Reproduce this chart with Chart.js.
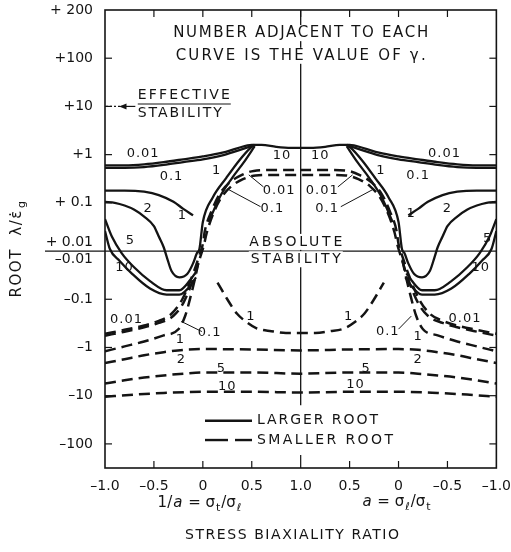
<!DOCTYPE html>
<html>
<head>
<meta charset="utf-8">
<script src="https://cdn.jsdelivr.net/npm/chart.js@4.4.1/dist/chart.umd.min.js"></script>
<style>
  html, body { margin: 0; padding: 0; background: #fff; }
  canvas { display: block; }
</style>
</head>
<body>
<canvas id="chart" width="511" height="552"></canvas>
<script>
// ── Data (left half, x = 1/a from -1 to 1; right half is the mirror, a from 1 to -1) ──
// each pair: [stress ratio, root λ/ε̇g]

// larger root (solid)
var large001 = [[-1,0.6],[-0.8,0.6],[-0.6,0.63],[-0.4,0.7],[-0.2,0.8],[0,0.92],[0.2,1.1],[0.35,1.35],[0.5,1.6],[0.6,1.6],[0.75,1.45],[0.9,1.38],[1,1.38]];
var large01  = [[-1,0.53],[-0.8,0.53],[-0.6,0.55],[-0.4,0.61],[-0.2,0.7],[0,0.8],[0.2,0.97],[0.35,1.2],[0.5,1.5]];
var large1a  = [[-1,0.18],[-0.8,0.18],[-0.6,0.17],[-0.45,0.145],[-0.3,0.105],[-0.2,0.075],[-0.1,0.055]];
var large1b  = [[0.06,0.04],[0.17,0.128],[0.3,0.33],[0.42,0.7],[0.53,1.5]];
var large2   = [[-1,0.105],[-0.9,0.1],[-0.8,0.088],[-0.7,0.072],[-0.6,0.052],[-0.5,0.033],[-0.45,0.02],[-0.4,0.012],
                [-0.37,-0.013],[-0.32,-0.026],[-0.24,-0.035],[-0.16,-0.03],[-0.1,-0.018],[-0.06,-0.011],
                [-0.035,0.011],[0,0.04],[0.1,0.128],[0.24,0.33],[0.37,0.75],[0.49,1.4],[0.53,1.6]];
var large5   = [[-1,0.046],[-0.93,0.02],[-0.83,-0.011],[-0.7,-0.022],[-0.54,-0.042],[-0.37,-0.065],[-0.24,-0.065],[-0.13,-0.04],[-0.08,-0.029]];
var large10  = [[-1,0.026],[-0.95,0.011],[-0.85,-0.016],[-0.72,-0.03],[-0.54,-0.06],[-0.37,-0.08],[-0.24,-0.08],[-0.11,-0.047],[-0.07,-0.035]];

// smaller root (dashed)
var small001 = [[-1,-0.52],[-0.8,-0.43],[-0.6,-0.35],[-0.45,-0.28],[-0.32,-0.2],[-0.21,-0.1],[-0.09,-0.026],[-0.04,-0.013],
                [0,0.014],[0.02,0.026],[0.09,0.068],[0.17,0.15],[0.27,0.26],[0.39,0.37],[0.52,0.46],[0.75,0.48],[1,0.48]];
var small01  = [[-1,-0.57],[-0.8,-0.47],[-0.6,-0.38],[-0.45,-0.31],[-0.3,-0.22],[-0.2,-0.12],[-0.08,-0.03],[-0.03,-0.014],
                [0.01,0.013],[0.04,0.024],[0.11,0.062],[0.19,0.13],[0.29,0.22],[0.41,0.31],[0.54,0.37],[0.75,0.38],[1,0.38]];
var small1a  = [[-1,-1.2],[-0.8,-0.95],[-0.6,-0.75],[-0.4,-0.56],[-0.25,-0.42],[-0.18,-0.22],[-0.12,-0.08],[-0.07,-0.03],[-0.04,-0.015]];
var small1b  = [[0.15,-0.045],[0.25,-0.1],[0.35,-0.2],[0.45,-0.3],[0.55,-0.4],[0.7,-0.46],[0.85,-0.5],[1,-0.5]];
var small2   = [[-1,-2.1],[-0.8,-1.75],[-0.6,-1.45],[-0.4,-1.25],[-0.2,-1.12],[0,-1.08],[0.5,-1.1],[1,-1.15]];
var small5   = [[-1,-5.6],[-0.8,-4.8],[-0.6,-4.2],[-0.4,-3.8],[-0.2,-3.5],[0,-3.3],[0.5,-3.3],[1,-3.5]];
var small10  = [[-1,-10.5],[-0.7,-9.5],[-0.4,-8.8],[0,-8.3],[0.5,-8.3],[1,-8.6]];

// axis ticks (y in decades of |λ| from 0.01, sign kept)
var yTickPos    = [5, 4, 3, 2, 1, 0, -1, -2, -3, -4];
var yTickLabels = ["+ 200", "+100", "+10", "+1", "+ 0.1", ["+ 0.01", "\u20130.01"], "\u20130.1", "\u20131", "\u201310", "\u2013100"];
var xTickLabels = ["\u20131.0", "\u20130.5", "0", "0.5", "1.0", "0.5", "0", "\u20130.5", "\u20131.0"];

// γ tags next to the curves: [text, x, y(axis units)]
var curveTags = [
  ["0.01",-0.61,2.02],["0.1",-0.32,1.54],["1",-0.21,0.73],["2",-0.56,0.875],["5",-0.74,0.21],["10",-0.8,-0.35],
  ["1",0.14,1.67],["10",0.81,1.98],["10",1.2,1.98],["0.01",0.78,1.25],["0.01",1.22,1.25],["0.1",0.71,0.875],["0.1",1.27,0.875],
  ["0.01",2.47,2.02],["0.1",2.2,1.56],["1",1.82,1.67],["1",2.13,0.77],["2",2.5,0.875],["5",2.91,0.25],["10",2.84,-0.35],
  ["0.01",-0.78,-1.42],["0.1",0.07,-1.69],["1",-0.23,-1.83],["2",-0.22,-2.25],["5",0.19,-2.44],["10",0.25,-2.81],["1",0.49,-1.35],
  ["0.01",2.68,-1.4],["0.1",1.89,-1.67],["1",2.2,-1.77],["2",2.2,-2.25],["5",1.67,-2.44],["10",1.56,-2.77],["1",1.49,-1.35]
];
var leaders = [
  [0.47,1.58,0.62,1.33],[0.25,1.29,0.59,0.92],[1.53,1.58,1.38,1.33],[1.75,1.29,1.41,0.92],
  [-0.22,-1.46,-0.01,-1.67],[2.13,-1.35,2.0,-1.62]
];

var ink = "#141414";
var FONT = '"DejaVu Sans", sans-serif';

// ── helpers ──────────────────────────────────────────────
function toAxis(l) {
  return Math.sign(l) * Math.max(0, Math.log10(Math.abs(l)) + 2);
}
function leftPts(c)  { return c.map(function(p) { return { x: p[0], y: toAxis(p[1]) }; }); }
function rightPts(c) { return c.map(function(p) { return { x: 2 - p[0], y: toAxis(p[1]) }; }).reverse(); }
function across(c)   { return leftPts(c).concat(rightPts(c).slice(1)); }

function solid(pts)  { return { data: pts, borderColor: ink, borderWidth: 2.3 }; }
function dashed(pts) { return { data: pts, borderColor: ink, borderWidth: 2.5, borderDash: [11, 6] }; }

var datasets = [
  solid(across(large001)),
  solid(leftPts(large01)),  solid(rightPts(large01)),
  solid(leftPts(large1a)),  solid(rightPts(large1a)),
  solid(leftPts(large1b)),  solid(rightPts(large1b)),
  solid(leftPts(large2)),   solid(rightPts(large2)),
  solid(leftPts(large5)),   solid(rightPts(large5)),
  solid(leftPts(large10)),  solid(rightPts(large10)),
  dashed(across(small001)),
  dashed(across(small01)),
  dashed(leftPts(small1a)), dashed(rightPts(small1a)),
  dashed(across(small1b)),
  dashed(across(small2)),
  dashed(across(small5)),
  dashed(across(small10))
];

function line(ctx, x1, y1, x2, y2) {
  ctx.beginPath(); ctx.moveTo(x1, y1); ctx.lineTo(x2, y2); ctx.stroke();
}

// text stretched with letter spacing to a target width
function spaced(ctx, s, x, y, width, align, bg) {
  ctx.letterSpacing = "0px";
  var w0 = ctx.measureText(s).width;
  var n = Array.from(s).length;
  var sp = width ? Math.max(0, (width - w0) / Math.max(1, n - 1)) : 0;
  var w = width || w0;
  var left = align === "left" ? x : x - w / 2;
  if (bg) {
    ctx.fillStyle = "#fff";
    ctx.fillRect(left - 2, y - 8, w + 4, 16);
    ctx.fillStyle = ink;
  }
  ctx.letterSpacing = sp + "px";
  ctx.textAlign = "left";
  ctx.fillText(s, left, y);
  ctx.letterSpacing = "0px";
}

// text made of pieces, some of them subscripts
function rich(ctx, parts, cx, cy, size, gap) {
  var total = 0;
  function font(p) {
    return (p[1] === "sub" ? Math.round(size * 0.72) + "px " : (p[1] === "it" ? "italic " : "") + size + "px ") + FONT;
  }
  ctx.letterSpacing = (gap || 0) + "px";
  parts.forEach(function(p) {
    ctx.font = font(p);
    p.w = ctx.measureText(p[0]).width + 1;
    total += p.w;
  });
  var x = cx - total / 2;
  ctx.textAlign = "left";
  parts.forEach(function(p) {
    ctx.font = font(p);
    ctx.fillText(p[0], x, cy + (p[1] === "sub" ? size * 0.35 : 0));
    x += p.w;
  });
  ctx.letterSpacing = "0px";
}

// ── frame, inner ticks, reference lines, lettering ─────────
var paperPlugin = {
  id: "paper",
  beforeDatasetsDraw: function(chart) {
    var ctx = chart.ctx, a = chart.chartArea, x = chart.scales.x, y = chart.scales.y;
    ctx.save();
    ctx.strokeStyle = ink;
    ctx.lineWidth = 1.6;
    ctx.strokeRect(a.left, a.top, a.right - a.left, a.bottom - a.top);

    ctx.lineWidth = 1.2;
    yTickPos.forEach(function(v) {
      if (v === 0 || v === 5) return;
      var py = y.getPixelForValue(v);
      line(ctx, a.left, py, a.left + 7, py);
      line(ctx, a.right - 7, py, a.right, py);
    });
    for (var v = -0.5; v < 3; v += 0.5) {
      var px = x.getPixelForValue(v);
      var len = v === 1 ? 13 : 7;
      line(ctx, px, a.top, px, a.top + 7);
      line(ctx, px, a.bottom - len, px, a.bottom);
    }

    // ±0.01 line, running out under the tick labels
    var y0 = y.getPixelForValue(0);
    ctx.lineWidth = 1.3;
    line(ctx, 45, y0, a.right, y0);

    // equal biaxial line
    var xc = x.getPixelForValue(1);
    line(ctx, xc, a.top, xc, y.getPixelForValue(-3.2));
    ctx.restore();
  },
  afterDatasetsDraw: function(chart) {
    var ctx = chart.ctx, a = chart.chartArea, x = chart.scales.x, y = chart.scales.y;
    function X(v) { return x.getPixelForValue(v); }
    function Y(v) { return y.getPixelForValue(v); }
    ctx.save();
    ctx.fillStyle = ink;
    ctx.strokeStyle = ink;
    ctx.textBaseline = "middle";

    // header
    ctx.font = "15px " + FONT;
    spaced(ctx, "NUMBER ADJACENT TO EACH", X(1), Y(4.52), 255, "center", true);
    spaced(ctx, "CURVE IS THE VALUE OF \u03B3.", X(1), Y(4.05), 250, "center", true);

    // effective stability note
    ctx.font = "14px " + FONT;
    spaced(ctx, "EFFECTIVE", X(-0.665), Y(3.22), 92, "left");
    spaced(ctx, "STABILITY", X(-0.665), Y(2.85), 84, "left");
    ctx.lineWidth = 1.2;
    line(ctx, X(-0.665), Y(3.05), X(-0.665) + 93, Y(3.05));
    ctx.setLineDash([2, 2]);
    line(ctx, a.left + 1, Y(3), X(-0.84), Y(3));
    ctx.setLineDash([]);
    line(ctx, X(-0.84), Y(3), X(-0.69), Y(3));
    ctx.beginPath();
    ctx.moveTo(X(-0.855), Y(3));
    ctx.lineTo(X(-0.78), Y(3) - 3);
    ctx.lineTo(X(-0.78), Y(3) + 3);
    ctx.closePath();
    ctx.fill();

    // absolute stability
    spaced(ctx, "ABSOLUTE", X(0.95), Y(0.19), 93, "center", true);
    spaced(ctx, "STABILITY", X(0.95), Y(-0.17), 90, "center", true);

    // γ tags
    ctx.font = "13px " + FONT;
    ctx.textAlign = "center";
    curveTags.forEach(function(t) {
      ctx.letterSpacing = "1px";
      ctx.fillText(t[0], X(t[1]), Y(t[2]));
    });
    ctx.letterSpacing = "0px";
    ctx.lineWidth = 1;
    leaders.forEach(function(l) { line(ctx, X(l[0]), Y(l[1]), X(l[2]), Y(l[3])); });

    // legend
    ctx.lineWidth = 2.4;
    line(ctx, 205, Y(-3.52), 252, Y(-3.52));
    line(ctx, 205, Y(-3.92), 228, Y(-3.92));
    line(ctx, 235, Y(-3.92), 252, Y(-3.92));
    ctx.font = "14px " + FONT;
    spaced(ctx, "LARGER ROOT", 257, Y(-3.52), 121, "left");
    spaced(ctx, "SMALLER ROOT", 257, Y(-3.92), 136, "left");

    // axis titles
    rich(ctx, [["1/", ""], ["a", "it"], [" = \u03C3", ""], ["t", "sub"], ["/\u03C3", ""], ["\u2113", "sub"]], 200, 503, 15);
    rich(ctx, [["a", "it"], [" = \u03C3", ""], ["\u2113", "sub"], ["/\u03C3", ""], ["t", "sub"]], 397, 502, 15);
    ctx.font = "14px " + FONT;
    spaced(ctx, "STRESS BIAXIALITY RATIO", 292, 535, 214, "center");

    ctx.translate(17, 248);
    ctx.rotate(-Math.PI / 2);
    rich(ctx, [["ROOT  \u03BB/\u03B5\u0307", ""], ["g", "sub"]], 0, 0, 15, 1.5);
    ctx.restore();
  }
};

new Chart(document.getElementById("chart"), {
  type: "line",
  data: { datasets: datasets },
  options: {
    responsive: false,
    animation: false,
    layout: { padding: { top: 10, right: 0, left: 0, bottom: 0 } },
    elements: {
      point: { radius: 0 },
      line: { fill: false, cubicInterpolationMode: "monotone", borderCapStyle: "butt" }
    },
    plugins: { legend: { display: false }, tooltip: { enabled: false } },
    scales: {
      x: {
        type: "linear", min: -1, max: 3,
        afterBuildTicks: function(s) {
          s.ticks = xTickLabels.map(function(_, i) { return { value: -1 + i * 0.5 }; });
        },
        ticks: {
          autoSkip: false, maxRotation: 0, padding: 0, color: ink,
          font: { family: FONT, size: 14 },
          callback: function(v) { return xTickLabels[Math.round((v + 1) * 2)]; }
        },
        grid: { display: true, drawOnChartArea: false, drawTicks: true, tickLength: 10, tickColor: "rgba(0,0,0,0)" },
        border: { display: false },
        afterFit: function(s) { s.height = 84; }
      },
      y: {
        type: "linear", min: -4.5, max: 5,
        afterBuildTicks: function(s) {
          s.ticks = yTickPos.map(function(v) { return { value: v }; });
        },
        ticks: {
          autoSkip: false, padding: 0, color: ink,
          font: { family: FONT, size: 14 },
          callback: function(v) { return yTickLabels[yTickPos.indexOf(v)]; }
        },
        grid: { display: true, drawOnChartArea: false, drawTicks: true, tickLength: 12, tickColor: "rgba(0,0,0,0)" },
        border: { display: false },
        afterFit: function(s) { s.width = 105; }
      }
    }
  },
  plugins: [paperPlugin]
});
</script>
</body>
</html>
